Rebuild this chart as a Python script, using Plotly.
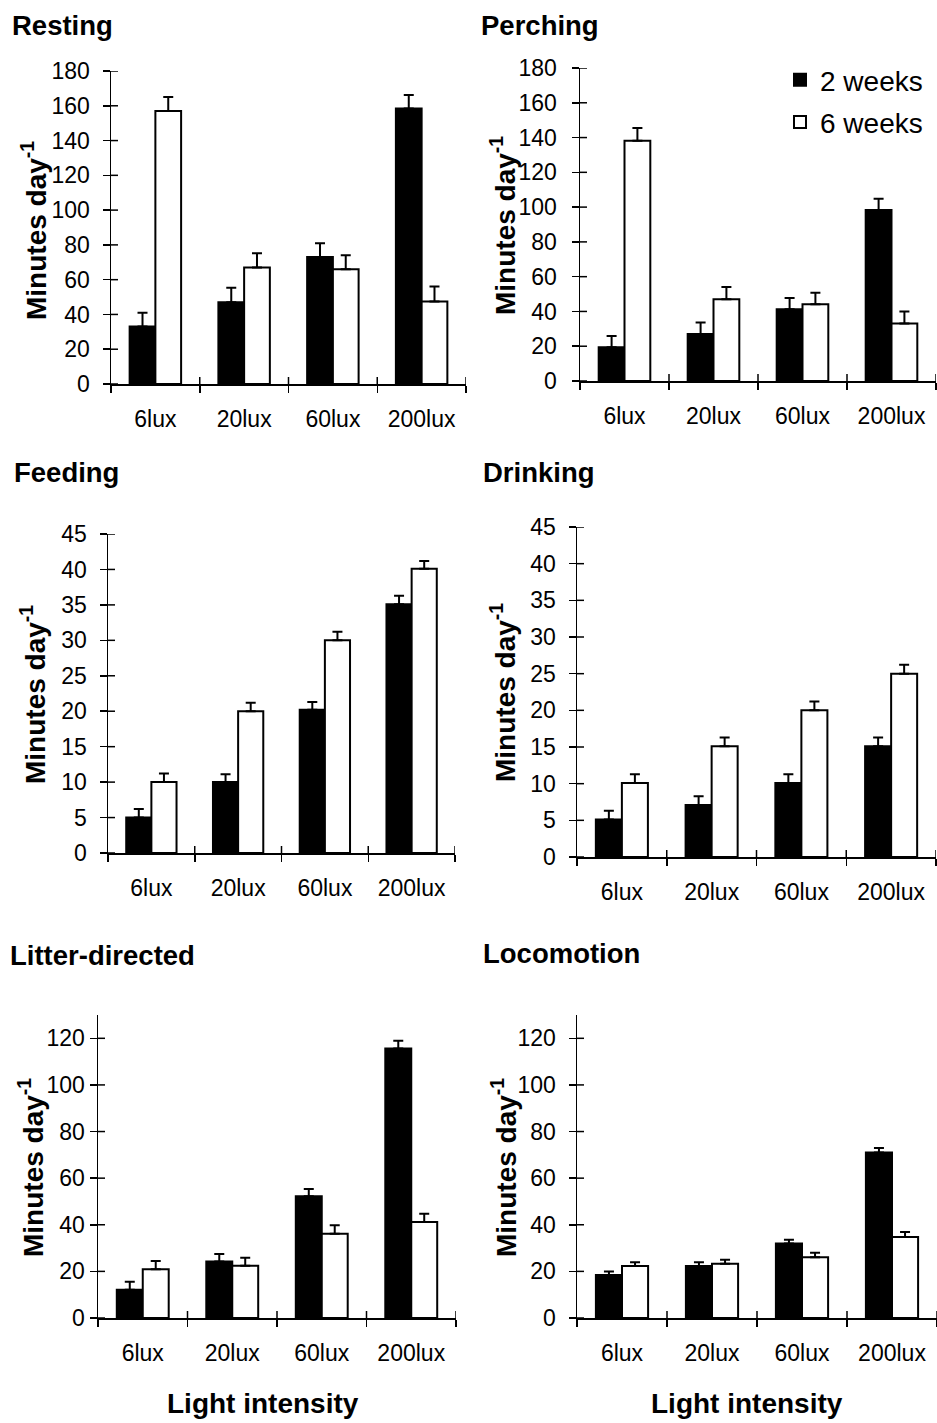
import plotly.graph_objects as go

W, H = 937, 1423
FONT = "Liberation Sans"

categories = ["6lux", "20lux", "60lux", "200lux"]

resting_2w = [33, 47, 73, 158.5]
resting_2w_err = [8, 8.3, 8, 7.7]
resting_6w = [157, 67, 66, 47.5]
resting_6w_err = [8, 8.2, 8, 8.5]

perching_2w = [19.4, 27, 41.2, 98.3]
perching_2w_err = [6.5, 6.7, 6.5, 6.5]
perching_6w = [138.2, 47, 44.1, 33]
perching_6w_err = [7.3, 7.1, 6.7, 6.9]

feeding_2w = [5, 10, 20.2, 35.1]
feeding_2w_err = [1.2, 1.1, 1.1, 1.2]
feeding_6w = [10, 20, 30, 40.1]
feeding_6w_err = [1.2, 1.2, 1.2, 1.1]

drinking_2w = [5.1, 7.1, 10.1, 15.1]
drinking_2w_err = [1.2, 1.2, 1.2, 1.2]
drinking_6w = [10.1, 15.1, 20, 25]
drinking_6w_err = [1.2, 1.2, 1.2, 1.2]

litter_2w = [12.1, 24.2, 52.2, 115.6]
litter_2w_err = [3.4, 3.3, 3.2, 3.4]
litter_6w = [20.9, 22.4, 36.2, 41.2]
litter_6w_err = [3.6, 3.5, 3.6, 3.5]

loco_2w = [18.4, 22.3, 32.0, 71.0]
loco_2w_err = [1.5, 1.6, 1.6, 1.9]
loco_6w = [22.3, 23.3, 26.1, 34.7]
loco_6w_err = [1.6, 1.7, 1.9, 2.2]

series_names = ["2 weeks", "6 weeks"]

panels = [
    dict(title="Resting", a=resting_2w, ae=resting_2w_err, b=resting_6w, be=resting_6w_err,
         yr=[0, 180], dt=20, px=(111, 466), py=(71, 384), stand=8,
         tpos=(10, 26), ypos=(34, 231)),
    dict(title="Perching", a=perching_2w, ae=perching_2w_err, b=perching_6w, be=perching_6w_err,
         yr=[0, 180], dt=20, px=(580, 936), py=(68, 381), stand=10,
         tpos=(479, 26), ypos=(503, 225)),
    dict(title="Feeding", a=feeding_2w, ae=feeding_2w_err, b=feeding_6w, be=feeding_6w_err,
         yr=[0, 45], dt=5, px=(108, 455), py=(534, 853), stand=8,
         tpos=(12, 472), ypos=(33, 695)),
    dict(title="Drinking", a=drinking_2w, ae=drinking_2w_err, b=drinking_6w, be=drinking_6w_err,
         yr=[0, 45], dt=5, px=(577, 936), py=(527, 857), stand=8,
         tpos=(481, 472), ypos=(503, 692)),
    dict(title="Litter-directed", a=litter_2w, ae=litter_2w_err, b=litter_6w, be=litter_6w_err,
         yr=[0, 130], dt=20, px=(98, 456), py=(1015, 1318), stand=0,
         tpos=(8, 955), ypos=(31, 1168)),
    dict(title="Locomotion", a=loco_2w, ae=loco_2w_err, b=loco_6w, be=loco_6w_err,
         yr=[0, 130], dt=20, px=(577, 937), py=(1015, 1318), stand=8,
         tpos=(481, 953), ypos=(504, 1168)),
]

fig = go.Figure()
annotations = []
shapes = []
layout_axes = {}

for i, p in enumerate(panels):
    n = i + 1
    xs = "" if n == 1 else str(n)
    xref, yref = "x" + xs, "y" + xs
    for k, (vals, errs, color) in enumerate([(p["a"], p["ae"], "black"), (p["b"], p["be"], "white")]):
        fig.add_trace(go.Bar(
            x=categories, y=vals, name=series_names[k],
            xaxis=xref, yaxis=yref,
            marker=dict(color=color, line=dict(color="black", width=2)),
            error_y=dict(type="data", array=errs, arrayminus=[0] * len(errs), symmetric=False,
                         color="black", thickness=2, width=5),
            showlegend=(n == 2), legendgroup=series_names[k],
        ))
    layout_axes["xaxis" + xs] = dict(
        domain=[p["px"][0] / W, p["px"][1] / W], anchor=yref, automargin=False,
        type="category", categoryorder="array", categoryarray=categories,
        range=[-0.5, 3.5], tickson="boundaries", ticks="outside", ticklen=7, tickwidth=1.5,
        tickcolor="black", showline=True, linecolor="black", linewidth=1.5,
        showgrid=False, zeroline=False, ticklabelstandoff=14,
        tickfont=dict(family=FONT, size=23, color="black"), fixedrange=True,
    )
    layout_axes["yaxis" + xs] = dict(
        domain=[1 - p["py"][1] / H, 1 - p["py"][0] / H], anchor=xref, automargin=False,
        range=p["yr"], dtick=p["dt"], tick0=0, ticks="outside", ticklen=7, tickwidth=1.5,
        tickcolor="black", showline=True, linecolor="black", linewidth=1.5,
        showgrid=False, zeroline=False, ticklabelstandoff=p["stand"],
        tickfont=dict(family=FONT, size=23, color="black"), fixedrange=True,
    )
    # inner halves of the crossing tick marks
    v = 0
    while v <= p["yr"][1]:
        shapes.append(dict(type="line", xref=xref + " domain", yref=yref, xsizemode="pixel",
                           xanchor=0, x0=0, x1=7, y0=v, y1=v,
                           line=dict(color="black", width=1.5)))
        v += p["dt"]
    for b in [0.5, 1.5, 2.5, 3.5]:
        shapes.append(dict(type="line", xref=xref, yref=yref + " domain", ysizemode="pixel",
                           yanchor=0, y0=0, y1=7, x0=b, x1=b,
                           line=dict(color="black", width=1.5)))
    # panel title
    annotations.append(dict(text="<b>" + p["title"] + "</b>", xref="paper", yref="paper",
                            x=p["tpos"][0] / W, y=1 - p["tpos"][1] / H, xanchor="left",
                            yanchor="middle", showarrow=False,
                            font=dict(family=FONT, size=27.5, color="black")))
    # y-axis title
    annotations.append(dict(text="<b>Minutes day<sup>-1</sup></b>", xref="paper", yref="paper",
                            x=p["ypos"][0] / W, y=1 - p["ypos"][1] / H, xanchor="center",
                            yanchor="middle", textangle=-90, showarrow=False,
                            font=dict(family=FONT, size=28, color="black")))

for cx in (263, 747):
    annotations.append(dict(text="<b>Light intensity</b>", xref="paper", yref="paper",
                            x=cx / W, y=1 - 1403 / H, xanchor="center", yanchor="middle",
                            showarrow=False, font=dict(family=FONT, size=28, color="black")))

fig.update_layout(
    width=W, height=H, margin=dict(l=0, r=0, t=0, b=0, pad=0), autosize=False,
    paper_bgcolor="white", plot_bgcolor="white",
    barmode="group", bargap=0.42, bargroupgap=0,
    annotations=annotations, shapes=shapes,
    legend=dict(x=780 / W, y=1 - 55 / H, xanchor="left", yanchor="top",
                font=dict(family=FONT, size=28, color="black"),
                traceorder="grouped", tracegroupgap=3, itemwidth=30,
                bgcolor="rgba(0,0,0,0)"),
    **layout_axes,
)

fig.write_html("out.html", config={"displayModeBar": False, "staticPlot": True},
               post_script="document.body.style.margin='0px';")
